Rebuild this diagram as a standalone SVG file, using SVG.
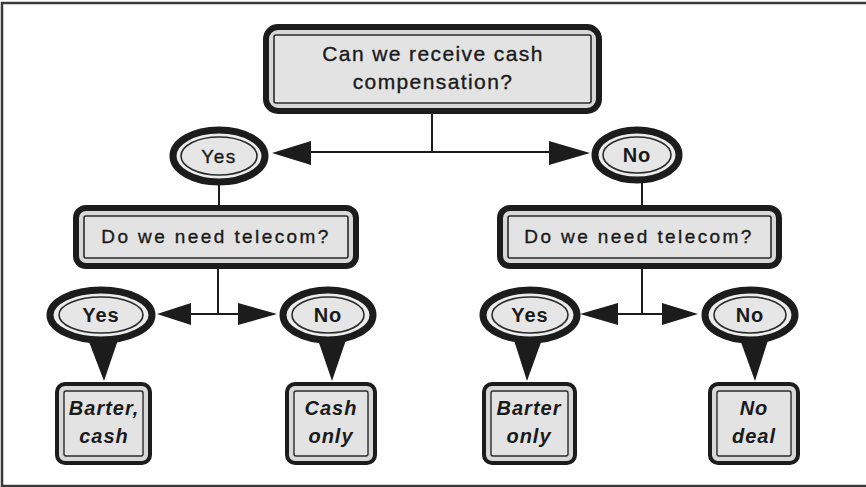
<svg xmlns="http://www.w3.org/2000/svg" width="866" height="487" viewBox="0 0 866 487">
  <style>
    .frame { fill: #ffffff; stroke: #3a3a3a; stroke-width: 2.5; }
    .box-outer { fill: #d8d8d8; stroke: #1c1c1c; stroke-width: 6; }
    .box-inner { fill: #e3e3e3; stroke: #2a2a2a; stroke-width: 1.6; }
    .leaf-outer { fill: #d8d8d8; stroke: #1c1c1c; stroke-width: 4; }
    .leaf-inner { fill: #e3e3e3; stroke: #2a2a2a; stroke-width: 1.4; }
    .oval-outer { fill: #ececec; stroke: #1c1c1c; stroke-width: 7; }
    .oval-inner { fill: #e6e6e6; stroke: #2a2a2a; stroke-width: 1.6; }
    .tail { fill: #1c1c1c; }
    .wire { fill: none; stroke: #1c1c1c; stroke-width: 2; }
    .head { fill: #1c1c1c; }
    .t { font-family: "Liberation Sans", Arial, sans-serif; fill: #1a1a1a; text-anchor: middle; }
    .q1 { font-size: 21px; letter-spacing: 1.4px; stroke: #1a1a1a; stroke-width: 0.35; }
    .q2 { font-size: 19px; letter-spacing: 2.4px; stroke: #1a1a1a; stroke-width: 0.35; }
    .ans { font-size: 19px; letter-spacing: 1.5px; stroke: #1a1a1a; stroke-width: 0.35; }
    .ansb { font-size: 20px; font-weight: bold; letter-spacing: 1px; }
    .leaf { font-size: 20px; font-weight: bold; font-style: italic; letter-spacing: 1px; }
  </style>

  <rect class="frame" x="2" y="3" width="866" height="483"/>

  <!-- connectors -->
  <g id="connectors">
    <!-- root split -->
    <path class="wire" d="M432 113 V152 M306 152 H554"/>
    <polygon class="head" points="272,153 311,141 311,165"/>
    <polygon class="head" points="590,153 549,141 549,165"/>
    <!-- answers to second questions -->
    <path class="wire" d="M219 184 V206 M642 183 V206"/>
    <!-- left split -->
    <path class="wire" d="M218 268 V314 M186 314 H242"/>
    <polygon class="head" points="157,314 191,303 191,325"/>
    <polygon class="head" points="277,314 238,303 238,325"/>
    <!-- right split -->
    <path class="wire" d="M642 268 V314 M614 314 H666"/>
    <polygon class="head" points="580,314 618,303 618,325"/>
    <polygon class="head" points="698,314 662,303 662,325"/>
  </g>

  <!-- root question -->
  <g id="q-cash">
    <rect class="box-outer" x="266" y="27" width="333" height="84" rx="12"/>
    <rect class="box-inner" x="274" y="35" width="317" height="68" rx="2"/>
    <text class="t q1" x="433" y="61">Can we receive cash</text>
    <text class="t q1" x="433" y="89">compensation?</text>
  </g>

  <!-- first-level answers -->
  <g id="a-yes">
    <ellipse class="oval-outer" cx="219" cy="156" rx="46" ry="26"/>
    <ellipse class="oval-inner" cx="219" cy="156" rx="38" ry="19"/>
    <text class="t ans" x="219" y="163">Yes</text>
  </g>
  <g id="a-no">
    <ellipse class="oval-outer" cx="637" cy="155" rx="42" ry="25"/>
    <ellipse class="oval-inner" cx="637" cy="155" rx="34" ry="18"/>
    <text class="t ansb" x="637" y="162">No</text>
  </g>

  <!-- second-level questions -->
  <g id="q-telecom-left">
    <rect class="box-outer" x="76" y="208" width="280" height="58" rx="10"/>
    <rect class="box-inner" x="84" y="216" width="264" height="42" rx="2"/>
    <text class="t q2" x="216" y="243">Do we need telecom?</text>
  </g>
  <g id="q-telecom-right">
    <rect class="box-outer" x="500" y="208" width="279" height="58" rx="10"/>
    <rect class="box-inner" x="508" y="216" width="263" height="42" rx="2"/>
    <text class="t q2" x="639" y="243">Do we need telecom?</text>
  </g>

  <!-- second-level answers with pointer tails -->
  <g id="b-yes-left">
    <polygon class="tail" points="86,334 120,334 104,381"/>
    <ellipse class="oval-outer" cx="101" cy="315" rx="51" ry="25"/>
    <ellipse class="oval-inner" cx="101" cy="315" rx="42" ry="18"/>
    <text class="t ansb" x="101" y="322">Yes</text>
  </g>
  <g id="b-no-left">
    <polygon class="tail" points="316,334 348,334 332,381"/>
    <ellipse class="oval-outer" cx="328" cy="315" rx="45" ry="25"/>
    <ellipse class="oval-inner" cx="328" cy="315" rx="36" ry="18"/>
    <text class="t ansb" x="328" y="322">No</text>
  </g>
  <g id="b-yes-right">
    <polygon class="tail" points="512,334 544,334 527,381"/>
    <ellipse class="oval-outer" cx="530" cy="315" rx="47" ry="25"/>
    <ellipse class="oval-inner" cx="530" cy="315" rx="38" ry="18"/>
    <text class="t ansb" x="530" y="322">Yes</text>
  </g>
  <g id="b-no-right">
    <polygon class="tail" points="738,334 770,334 755,381"/>
    <ellipse class="oval-outer" cx="750" cy="315" rx="45" ry="25"/>
    <ellipse class="oval-inner" cx="750" cy="315" rx="36" ry="18"/>
    <text class="t ansb" x="750" y="322">No</text>
  </g>

  <!-- outcomes -->
  <g id="o-barter-cash">
    <rect class="leaf-outer" x="57" y="384" width="93" height="79" rx="8"/>
    <rect class="leaf-inner" x="64" y="391" width="79" height="65" rx="2"/>
    <text class="t leaf" x="104" y="415">Barter,</text>
    <text class="t leaf" x="104" y="443">cash</text>
  </g>
  <g id="o-cash-only">
    <rect class="leaf-outer" x="287" y="384" width="88" height="79" rx="8"/>
    <rect class="leaf-inner" x="294" y="391" width="74" height="65" rx="2"/>
    <text class="t leaf" x="331" y="415">Cash</text>
    <text class="t leaf" x="331" y="443">only</text>
  </g>
  <g id="o-barter-only">
    <rect class="leaf-outer" x="484" y="384" width="91" height="79" rx="8"/>
    <rect class="leaf-inner" x="491" y="391" width="77" height="65" rx="2"/>
    <text class="t leaf" x="529" y="415">Barter</text>
    <text class="t leaf" x="529" y="443">only</text>
  </g>
  <g id="o-no-deal">
    <rect class="leaf-outer" x="710" y="384" width="88" height="79" rx="8"/>
    <rect class="leaf-inner" x="717" y="391" width="74" height="65" rx="2"/>
    <text class="t leaf" x="754" y="415">No</text>
    <text class="t leaf" x="754" y="443">deal</text>
  </g>
</svg>
